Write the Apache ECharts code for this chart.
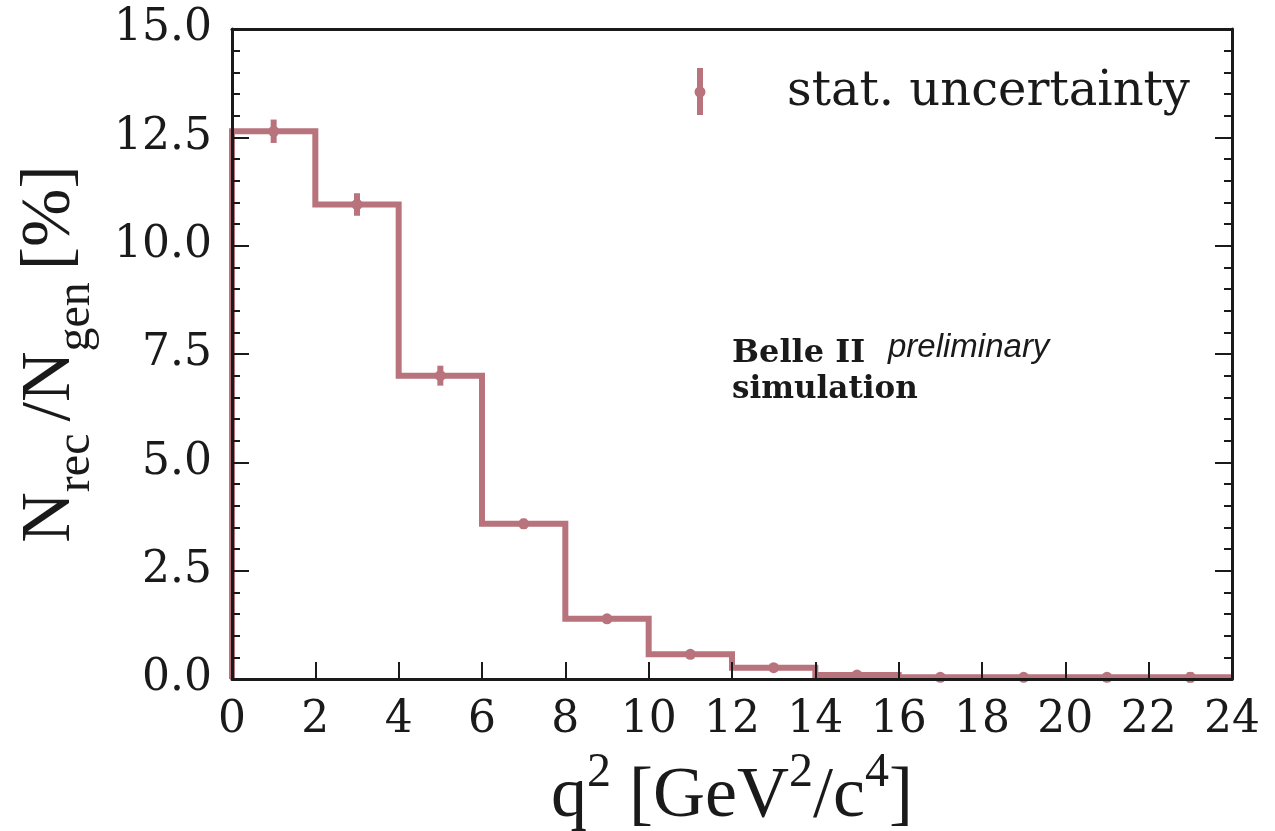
<!DOCTYPE html>
<html>
<head>
<meta charset="utf-8">
<script src="https://cdn.jsdelivr.net/npm/echarts@6/dist/echarts.min.js"></script>
<style>
  html, body { margin: 0; padding: 0; background: #ffffff; }
  #chart { width: 1275px; height: 831px; }
</style>
</head>
<body>
<div id="chart"></div>
<script>
// q^2 bin edges [GeV^2/c^4]
const binEdges = [0, 2, 4, 6, 8, 10, 12, 14, 16, 18, 20, 22, 24];
// reconstruction efficiency N_rec / N_gen per bin [%]
const efficiency = [12.64, 10.95, 7.00, 3.58, 1.39, 0.57, 0.26, 0.09, 0.04, 0.04, 0.04, 0.04];
// statistical uncertainty per bin [%]
const statError = [0.27, 0.26, 0.23, 0.12, 0.06, 0.04, 0.03, 0.02, 0.01, 0.01, 0.01, 0.12];
const xTickValues = [0, 2, 4, 6, 8, 10, 12, 14, 16, 18, 20, 22, 24];
const yTickValues = [0, 2.5, 5, 7.5, 10, 12.5, 15];

const lineColor = '#b8737d';
const inkColor = '#1a1a1a';
const tickFont = '"DejaVu Serif", serif';
const titleFont = '"Liberation Serif", "DejaVu Serif", serif';

// histogram outline: rise at the first edge, then one step per bin
const stepData = [[binEdges[0], 0]];
efficiency.forEach((v, i) => stepData.push([binEdges[i], v]));
stepData.push([binEdges[binEdges.length - 1], efficiency[efficiency.length - 1]]);

// bin centres with value and uncertainty
const pointData = efficiency.map((v, i) => [
  (binEdges[i] + binEdges[i + 1]) / 2, v, statError[i]
]);

const chart = echarts.init(document.getElementById('chart'), null, { renderer: 'canvas' });

const axisLineStyle = { color: inkColor, width: 3 };
const majorTick = { show: true, inside: true, length: 17, lineStyle: { color: inkColor, width: 2 } };
const minorTick = { show: true, splitNumber: 5, length: 8, lineStyle: { color: inkColor, width: 2 } };

chart.setOption({
  backgroundColor: '#ffffff',
  animation: false,
  grid: { left: 232, right: 43, top: 29, bottom: 152, containLabel: false, outerBoundsMode: 'none' },
  xAxis: [
    {
      type: 'value', min: 0, max: 24, interval: 2, z: 5,
      axisLine: { show: true, onZero: false, lineStyle: axisLineStyle },
      axisTick: majorTick,
      minorTick: { show: false },
      splitLine: { show: false },
      axisLabel: {
        margin: 20, color: inkColor, fontFamily: tickFont, fontSize: 44,
        customValues: xTickValues
      },
      name: '{b|q}{sup|2}{b| [GeV}{sup|2}{b|/c}{sup|4}{b|]}',
      nameLocation: 'middle', nameGap: 70,
      nameTextStyle: {
        rich: {
          b: { fontFamily: titleFont, fontSize: 72, color: inkColor, lineHeight: 84, verticalAlign: 'bottom' },
          sup: { fontFamily: titleFont, fontSize: 48, color: inkColor, lineHeight: 48, verticalAlign: 'top' }
        }
      }
    },
    {
      type: 'value', min: 0, max: 24, position: 'top', z: 5,
      axisLine: { show: true, onZero: false, lineStyle: axisLineStyle },
      axisTick: { show: false }, axisLabel: { show: false }, splitLine: { show: false }
    }
  ],
  yAxis: [
    {
      type: 'value', min: 0, max: 15, interval: 2.5, z: 5,
      axisLine: { show: true, onZero: false, lineStyle: axisLineStyle },
      axisTick: majorTick,
      minorTick: minorTick,
      splitLine: { show: false },
      axisLabel: {
        margin: 20, color: inkColor, fontFamily: tickFont, fontSize: 44,
        customValues: yTickValues,
        formatter: v => v.toFixed(1)
      },
      name: '{b|N}{sub|rec }{b|/N}{sub|gen }{b|[%]}',
      nameLocation: 'middle', nameGap: 132, nameRotate: 90,
      nameTextStyle: {
        rich: {
          b: { fontFamily: titleFont, fontSize: 70, color: inkColor, lineHeight: 84, verticalAlign: 'top' },
          sub: { fontFamily: titleFont, fontSize: 48, color: inkColor, lineHeight: 48, verticalAlign: 'bottom' }
        }
      }
    },
    {
      type: 'value', min: 0, max: 15, interval: 2.5, position: 'right', z: 5,
      axisLine: { show: true, onZero: false, lineStyle: axisLineStyle },
      axisTick: majorTick,
      minorTick: minorTick,
      axisLabel: { show: false }, splitLine: { show: false }
    }
  ],
  series: [
    {
      name: 'efficiency',
      type: 'line',
      step: 'end',
      data: stepData,
      symbol: 'none',
      clip: false,
      lineStyle: { color: lineColor, width: 6, cap: 'butt', join: 'miter' },
      z: 2
    },
    {
      name: 'stat. uncertainty',
      type: 'custom',
      data: pointData,
      clip: false,
      z: 3,
      renderItem: (params, api) => {
        const x = api.value(0), y = api.value(1), e = api.value(2);
        const lo = api.coord([x, y - e]);
        const hi = api.coord([x, y + e]);
        const c = api.coord([x, y]);
        return {
          type: 'group',
          children: [
            { type: 'line', shape: { x1: lo[0], y1: lo[1], x2: hi[0], y2: hi[1] },
              style: { stroke: lineColor, lineWidth: 6 } },
            { type: 'circle', shape: { cx: c[0], cy: c[1], r: 5.5 },
              style: { fill: lineColor } }
          ]
        };
      }
    }
  ],
  graphic: [
    // legend entry
    { type: 'line', shape: { x1: 700, y1: 68, x2: 700, y2: 115 }, style: { stroke: lineColor, lineWidth: 6 } },
    { type: 'circle', shape: { cx: 700, cy: 92, r: 5.5 }, style: { fill: lineColor } },
    { type: 'text', x: 787, y: 93,
      style: { text: 'stat. uncertainty', fontFamily: tickFont, fontSize: 48, fill: inkColor, verticalAlign: 'middle' } },
    // experiment label
    { type: 'text', x: 732, y: 354,
      style: { text: 'Belle II', fontFamily: tickFont, fontWeight: 'bold', fontSize: 32, fill: inkColor, verticalAlign: 'middle' } },
    { type: 'text', x: 888, y: 348,
      style: { text: 'preliminary', fontFamily: '"Liberation Sans", Arial, sans-serif', fontStyle: 'italic', fontSize: 33, fill: inkColor, verticalAlign: 'middle' } },
    { type: 'text', x: 732, y: 390,
      style: { text: 'simulation', fontFamily: tickFont, fontWeight: 'bold', fontSize: 31, fill: inkColor, verticalAlign: 'middle' } }
  ]
});
</script>
</body>
</html>
